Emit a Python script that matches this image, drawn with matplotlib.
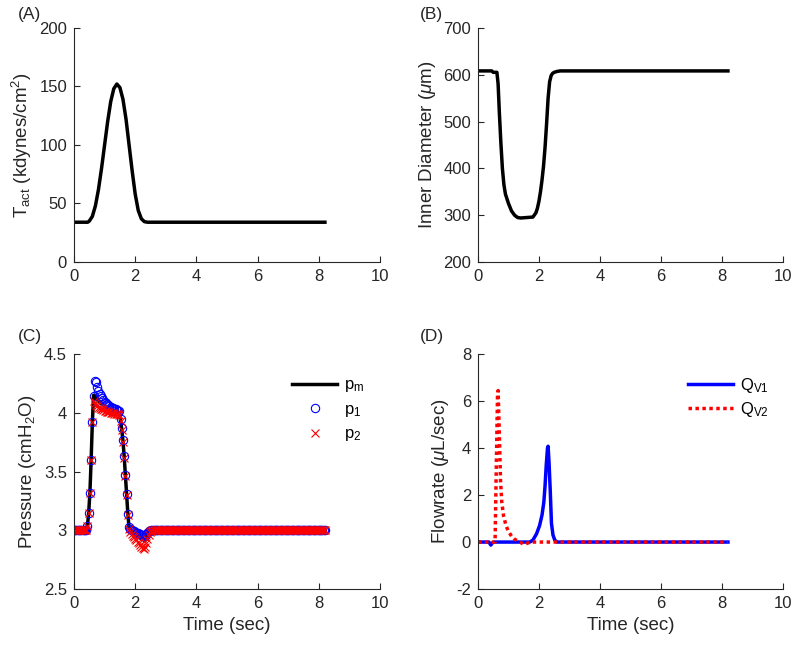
import numpy as np
import matplotlib
matplotlib.use('Agg')
import matplotlib.pyplot as plt
from matplotlib.ticker import FormatStrFormatter

plt.rcParams['font.family'] = ['Liberation Sans', 'DejaVu Sans']
plt.rcParams['mathtext.fontset'] = 'custom'
plt.rcParams['mathtext.rm'] = 'Liberation Sans'
plt.rcParams['mathtext.it'] = 'Liberation Sans:italic'
plt.rcParams['mathtext.default'] = 'regular'
plt.rcParams['axes.unicode_minus'] = False

gray = '#262626'

# (A) active tension
t_a = [0, 0.45, 0.5, 0.6, 0.7, 0.8, 0.9, 1.0, 1.1, 1.2, 1.3, 1.4, 1.5, 1.6,
       1.7, 1.8, 1.9, 2.0, 2.1, 2.2, 2.3, 2.4, 8.2]
tact = [34, 34, 35, 39, 48, 62, 80, 100, 120, 137, 148, 152, 149, 139,
        122, 100, 78, 58, 44, 37, 34.5, 34, 34]

# (B) inner diameter
t_b = [0, 0.45, 0.5, 0.62, 0.66, 0.70, 0.75, 0.80, 0.85, 0.90, 1.0, 1.1, 1.2,
       1.3, 1.4, 1.6, 1.8, 1.9, 1.95, 2.0, 2.05, 2.1, 2.15, 2.2, 2.25, 2.3,
       2.35, 2.4, 2.45, 2.5, 2.6, 2.7, 8.2]
diam = [608, 608, 605, 605, 580, 520, 455, 400, 365, 345, 325, 309, 300,
        295, 294, 295, 296, 305, 315, 330, 350, 375, 405, 445, 495, 550,
        585, 598, 603, 605, 607, 608, 608]

# (C) pressures, sampled every 0.04 s; active part 0.40 - 2.60 s
t_c = np.round(np.arange(0, 8.2001, 0.04), 2)
p_base = 3.0
pm_active = [3.00, 3.04, 3.15, 3.32, 3.60, 3.92, 4.15, 4.14, 4.125, 4.11,
             4.10, 4.09, 4.08, 4.07, 4.062, 4.055, 4.05, 4.045, 4.04, 4.035,
             4.03, 4.025, 4.02, 4.015, 4.01, 4.007, 4.004, 4.00, 3.94, 3.86,
             3.76, 3.63, 3.47, 3.31, 3.14, 3.02, 3.00, 2.99, 2.982, 2.975,
             2.968, 2.96, 2.953, 2.946, 2.939, 2.932, 2.925, 2.917, 2.91, 2.93,
             2.955, 2.975, 2.99, 2.998, 3.00, 3.00]
p1_active = [3.00, 3.04, 3.15, 3.32, 3.60, 3.92, 4.14, 4.27, 4.26, 4.22,
             4.19, 4.165, 4.145, 4.125, 4.11, 4.095, 4.085, 4.075, 4.065, 4.058,
             4.05, 4.045, 4.04, 4.035, 4.03, 4.025, 4.02, 4.015, 3.95, 3.87,
             3.77, 3.63, 3.47, 3.31, 3.14, 3.03, 3.01, 3.00, 2.995, 2.99,
             2.985, 2.98, 2.975, 2.97, 2.965, 2.96, 2.955, 2.95, 2.948, 2.96,
             2.975, 2.99, 2.998, 3.00, 3.00, 3.00]
p2_active = [3.00, 3.04, 3.15, 3.32, 3.60, 3.92, 4.10, 4.08, 4.065, 4.055,
             4.045, 4.04, 4.035, 4.03, 4.025, 4.02, 4.015, 4.01, 4.007, 4.004,
             4.00, 3.998, 3.996, 3.994, 3.992, 3.99, 3.988, 3.986, 3.93, 3.85,
             3.75, 3.62, 3.46, 3.30, 3.13, 3.01, 2.985, 2.97, 2.955, 2.94,
             2.93, 2.915, 2.90, 2.89, 2.875, 2.86, 2.85, 2.84, 2.855, 2.89,
             2.93, 2.96, 2.985, 2.997, 3.00, 3.00]

# (D) flowrates
t_q1 = [0, 0.36, 0.42, 0.48, 0.54, 1.70, 1.80, 1.92, 2.02, 2.10, 2.16, 2.20,
        2.24, 2.28, 2.30, 2.33, 2.37, 2.41, 2.46, 2.52, 2.60, 8.2]
qv1 = [0, 0, -0.13, -0.02, 0, 0, 0.08, 0.35, 0.7, 1.15, 1.7, 2.4,
       3.3, 4.0, 4.08, 3.4, 2.2, 0.8, 0.3, 0.08, 0, 0]
t_q2 = [0, 0.56, 0.60, 0.64, 0.66, 0.70, 0.74, 0.78, 0.84, 0.92, 1.00, 1.10,
        1.20, 1.32, 1.44, 1.52, 1.60, 1.72, 8.2]
qv2 = [0, 0, 3.2, 6.2, 6.45, 4.6, 2.6, 1.7, 1.1, 0.7, 0.45, 0.25,
       0.12, 0.03, -0.05, -0.1, -0.06, 0, 0]

# build pressure series
i0 = int(np.where(t_c == 0.40)[0][0])
pm = np.full(len(t_c), p_base)
p1 = np.full(len(t_c), p_base)
p2 = np.full(len(t_c), p_base)
pm[i0:i0 + len(pm_active)] = pm_active
p1[i0:i0 + len(p1_active)] = p1_active
p2[i0:i0 + len(p2_active)] = p2_active

fig = plt.figure(figsize=(8.0, 6.47), dpi=100)
axA = fig.add_axes([0.0925, 0.595, 0.3825, 0.362])
axB = fig.add_axes([0.5975, 0.595, 0.381, 0.362])
axC = fig.add_axes([0.0925, 0.0896, 0.3825, 0.363])
axD = fig.add_axes([0.5975, 0.0896, 0.381, 0.363])


def style(ax):
    for s in ['top', 'right']:
        ax.spines[s].set_visible(False)
    for s in ['left', 'bottom']:
        ax.spines[s].set_color(gray)
        ax.spines[s].set_linewidth(0.8)
    ax.tick_params(direction='in', length=4, width=0.8, colors=gray,
                   labelsize=12, pad=5)
    ax.set_xlim(0, 10)
    ax.set_xticks([0, 2, 4, 6, 8, 10])


axA.plot(t_a, tact, color='k', lw=2.5)
style(axA)
axA.set_ylim(0, 200)
axA.set_yticks([0, 50, 100, 150, 200])
axA.set_ylabel('T$_{act}$ (kdynes/cm$^2$)', fontsize=13.5, color=gray)

axB.plot(t_b, diam, color='k', lw=2.5)
style(axB)
axB.set_ylim(200, 700)
axB.set_yticks([200, 300, 400, 500, 600, 700])
axB.set_ylabel(r'Inner Diameter ($\mathit{\mu}$m)', fontsize=13.5, color=gray)

axC.plot(t_c, pm, color='k', lw=2.5, label='p$_m$')
axC.plot(t_c, p1, 'o', mfc='none', mec='b', ms=6, mew=0.8, label='p$_1$')
axC.plot(t_c, p2, 'x', color='r', ms=6, mew=0.8, label='p$_2$')
style(axC)
axC.set_ylim(2.5, 4.5)
axC.set_yticks([2.5, 3, 3.5, 4, 4.5])
axC.yaxis.set_major_formatter(FormatStrFormatter('%g'))
axC.set_ylabel('Pressure (cmH$_2$O)', fontsize=13.5, color=gray)
axC.set_xlabel('Time (sec)', fontsize=13.5, color=gray)
axC.legend(loc='upper left', bbox_to_anchor=(0.665, 0.965), frameon=False,
           fontsize=12, numpoints=1, handlelength=2.7, labelspacing=0.45,
           handletextpad=0.4)

axD.plot(t_q1, qv1, color='b', lw=2.5, label='Q$_{V1}$')
axD.plot(t_q2, qv2, color='r', lw=2.5, linestyle=(0, (1, 1)), label='Q$_{V2}$')
style(axD)
axD.set_ylim(-2, 8)
axD.set_yticks([-2, 0, 2, 4, 6, 8])
axD.set_ylabel(r'Flowrate ($\mathit{\mu}$L/sec)', fontsize=13.5, color=gray)
axD.set_xlabel('Time (sec)', fontsize=13.5, color=gray)
axD.legend(loc='upper left', bbox_to_anchor=(0.64, 0.97), frameon=False,
           fontsize=12, handlelength=2.7, labelspacing=0.3,
           handletextpad=0.4)

for lab, x, y in [('(A)', 18, 15), ('(B)', 420, 15), ('(C)', 18, 337), ('(D)', 420, 337)]:
    fig.text(x / 800, 1 - y / 647, lab, fontsize=12.5, color=gray,
             ha='left', va='center')

fig.savefig('out.png', dpi=100)
